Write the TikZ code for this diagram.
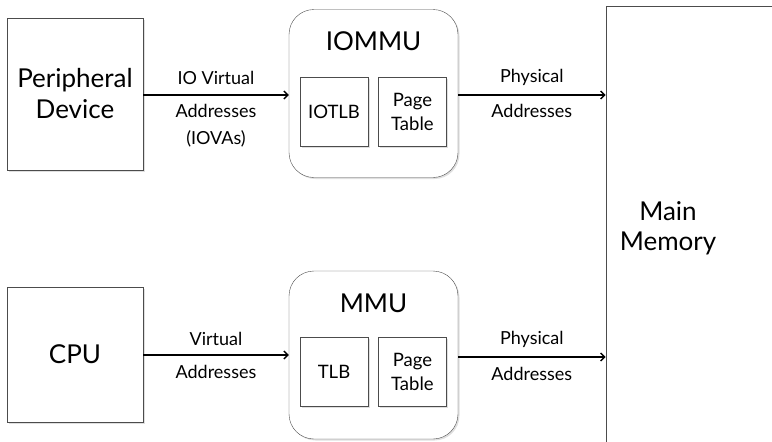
\documentclass[tikz,border=0pt]{standalone}
\usepackage{fontspec}
\setmainfont{Lato}
\usetikzlibrary{arrows.meta,shapes,positioning,shadows}
\tikzset{
  basic/.style  = {draw=black!70, thin, rectangle, align=center, fill=white,
                   drop shadow={shadow xshift=1.5pt, shadow yshift=-1.5pt, opacity=0.25}},
  device/.style = {basic, minimum width=136pt, font=\fontsize{26}{31}\selectfont},
  unit/.style   = {basic, rounded corners=25pt, minimum width=169pt, minimum height=168pt},
  part/.style   = {basic, minimum width=68pt, minimum height=69pt,
                   font=\fontsize{18.5}{24}\selectfont},
  title/.style  = {font=\fontsize{26}{30}\selectfont},
  lbl/.style    = {font=\fontsize{18}{27}\selectfont, align=center, inner sep=2pt},
  link/.style   = {draw=black, line width=1.3pt, -{Straight Barb[length=4pt,width=8pt]}}
}
\begin{document}
\begin{tikzpicture}[x=1pt, y=-1pt]
	\useasboundingbox (0,0) rectangle (772,442);
	\clip (0,0) rectangle (772,442);
	
	% the two sources on the left
	\node[device, minimum height=152pt] (periph) at (75,94) {Peripheral\\Device};
	\node[device, minimum height=135pt] (cpu) at (75,354.5) {CPU};
	
	% the translation units, each with its two parts
	\node[unit] (iommu) at (373.5,93.5) {};
	\node[title] (iommut) at (373.5,41) {IOMMU};
	\node[part] (iotlb) at (334,111.5) {IOTLB};
	\node[part] (iopt) [right=10pt of iotlb] {Page\\Table};
	
	\node[unit] (mmu) at (373.5,355) {};
	\node[title] (mmut) at (373.5,303) {MMU};
	\node[part] (tlb) at (334,372) {TLB};
	\node[part] (mpt) [right=10pt of tlb] {Page\\Table};
	
	% main memory, runs past the right and bottom edges
	\node[draw=black!70, thin, anchor=north west, minimum width=300pt,
	      minimum height=500pt] (mem) at (605.5,6) {};
	\node[title, align=center] (memt) at (668,228) {Main\\Memory};
	
	% connectors with their labels
	\draw[link] (periph.east |- 0,95) -- (iommu.west |- 0,95)
	  node[lbl, midway, above=8pt] (l1) {IO Virtual}
	  node[lbl, midway, below=7pt] (l2) {Addresses\\(IOVAs)};
	\draw[link] (iommu.east |- 0,95) -- (mem.west |- 0,95)
	  node[lbl, midway, above=7pt] (l3) {Physical}
	  node[lbl, midway, below=7pt] (l4) {Addresses};
	\draw[link] (cpu.east |- 0,355) -- (mmu.west |- 0,355)
	  node[lbl, midway, above=7pt] (l5) {Virtual}
	  node[lbl, midway, below=8pt] (l6) {Addresses};
	\draw[link] (mmu.east |- 0,357) -- (mem.west |- 0,357)
	  node[lbl, midway, above=7pt] (l7) {Physical}
	  node[lbl, midway, below=8pt] (l8) {Addresses};
	
\end{tikzpicture}
\end{document}
